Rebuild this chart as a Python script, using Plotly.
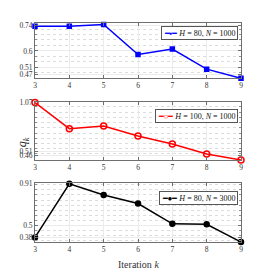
import plotly.graph_objects as go
from plotly.subplots import make_subplots

iterations = [3, 4, 5, 6, 7, 8, 9]
q_h80_n1000 = [0.735, 0.735, 0.745, 0.58, 0.61, 0.50, 0.45]
q_h100_n1000 = [1.07, 0.77, 0.80, 0.685, 0.595, 0.48, 0.41]
q_h80_n3000 = [0.38, 0.91, 0.80, 0.715, 0.515, 0.51, 0.335]

names = ["<i>H</i> = 80, <i>N</i> = 1000",
         "<i>H</i> = 100, <i>N</i> = 1000",
         "<i>H</i> = 80, <i>N</i> = 3000"]
yticks = [[0.47, 0.51, 0.6, 0.74], [0.46, 0.51, 1.07], [0.38, 0.5, 0.91]]
yranges = [[0.45, 0.753], [0.41, 1.08], [0.335, 0.915]]
minor_steps = [0.03, 0.06, 0.05]

series = [q_h80_n1000, q_h100_n1000, q_h80_n3000]
colors = ["#0000ff", "#ff0000", "#000000"]
symbols = ["square", "circle-open", "circle"]
glyphs = ["\u25aa", "\u25cb", "\u25cf"]
msizes = [4, 6, 5]

fig = make_subplots(rows=3, cols=1, shared_xaxes=False, vertical_spacing=0.0)
domains = [[0.7475, 1.0], [0.3744, 0.6406], [0.0, 0.268]]
legend_y = [0.986, 0.607, 0.234]

FONT = "Liberation Serif"
for i in range(3):
    fig.add_trace(go.Scatter(
        x=iterations, y=series[i], mode="lines+markers", name=names[i],
        line=dict(color=colors[i], width=1.5),
        marker=dict(symbol=symbols[i], size=msizes[i], color=colors[i],
                    line=dict(color=colors[i], width=1.5)),
        showlegend=False, cliponaxis=False,
    ), row=i + 1, col=1)
    ax = dict(
        showline=True, linecolor="#6f6f6f", linewidth=1, mirror="ticks",
        ticks="inside", ticklen=3, tickcolor="#6f6f6f",
        tickfont=dict(family=FONT, size=7.5, color="#333"),
        zeroline=False,
    )
    fig.update_xaxes(range=[3, 9], tickvals=iterations, showgrid=True,
                     gridcolor="#ebebeb", gridwidth=1, row=i + 1, col=1, **ax)
    fig.update_yaxes(range=yranges[i], tickvals=yticks[i], showgrid=True,
                     gridcolor="#ebebeb", domain=domains[i],
                     minor=dict(dtick=minor_steps[i], tick0=0, showgrid=True,
                                griddash="dot", gridcolor="#dcdcdc", gridwidth=1,
                                ticks="inside", ticklen=2, tickcolor="#8f8f8f"),
                     row=i + 1, col=1, **ax)
    # legend box (as annotation)
    fig.add_annotation(
        text=("<span style='color:%s'>\u2501%s\u2501</span> %s"
              % (colors[i], glyphs[i], names[i])),
        xref="paper", yref="paper", x=0.985, y=legend_y[i],
        xanchor="right", yanchor="top", showarrow=False,
        bgcolor="white", bordercolor="#555", borderwidth=1, borderpad=1.5,
        font=dict(family=FONT, size=8, color="#111"),
    )

fig.update_layout(
    width=258, height=265,
    margin=dict(l=27, r=25, t=15, b=31),
    paper_bgcolor="white", plot_bgcolor="white",
    font=dict(family=FONT),
    showlegend=False,
)
fig.add_annotation(text="<i>q<sub>k</sub></i>", xref="paper", yref="paper",
                   x=-0.105, y=0.457, textangle=-90, showarrow=False,
                   font=dict(family=FONT, size=12, color="#222"))
fig.add_annotation(text="Iteration <i>k</i>", xref="paper", yref="paper",
                   x=0.5, y=-0.105, showarrow=False, yanchor="middle",
                   font=dict(family=FONT, size=10, color="#333"))

fig.write_html("out.html")
